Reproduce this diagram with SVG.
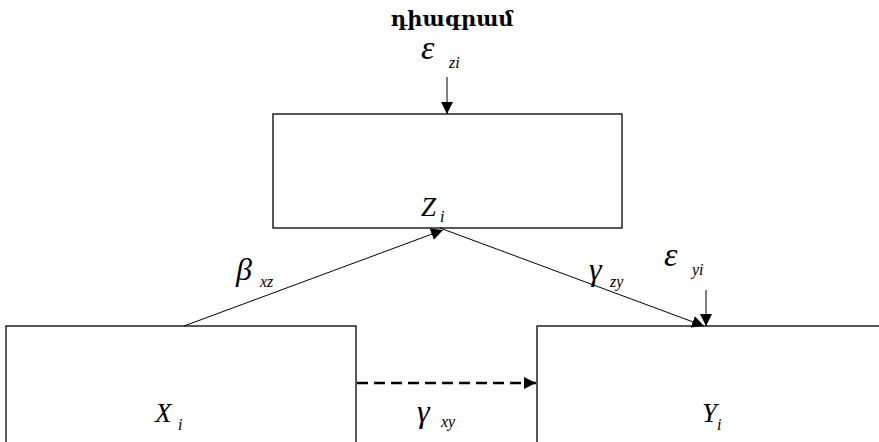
<svg xmlns="http://www.w3.org/2000/svg" width="879" height="442" viewBox="0 0 879 442">
<style>
.box{fill:#fff;stroke:#000;stroke-width:1.3}
.ln{stroke:#000;stroke-width:1;fill:none}
.eps{font-family:"Liberation Serif",serif;font-style:italic;font-size:34px;fill:#000}
.gr{font-family:"Liberation Serif",serif;font-style:italic;font-size:32px;fill:#000}
.mid{font-family:"Liberation Serif",serif;font-style:italic;font-size:27px;fill:#000}
.sub{font-family:"Liberation Serif",serif;font-style:italic;font-size:16px;fill:#000}
.title{font-family:"DejaVu Serif","Noto Sans",serif;font-weight:bold;font-size:21px;fill:#000}
</style>
<defs>
<marker id="ah" viewBox="0 0 10 10" refX="10" refY="5" markerWidth="12" markerHeight="12" markerUnits="userSpaceOnUse" orient="auto">
<path d="M0,0 L10,5 L0,10 Z" fill="#000"/>
</marker>
</defs>
<rect width="879" height="442" fill="#fff"/>
<text class="title" x="452" y="26" text-anchor="middle">դիագրամ</text>
<g id="Z">
<rect class="box" x="273" y="114" width="349" height="114"/>
<text class="mid" x="421" y="216">Z</text><text class="sub" x="440" y="222">i</text>
</g>
<g id="X">
<rect class="box" x="6" y="326" width="350" height="120"/>
<text class="mid" x="155" y="422">X</text><text class="sub" x="178" y="430">i</text>
</g>
<g id="Y">
<rect class="box" x="537" y="326" width="350" height="120"/>
<text class="mid" x="702" y="422">Y</text><text class="sub" x="717" y="430">i</text>
</g>
<g id="labels">
<text class="eps" x="421" y="59">ε</text><text class="sub" x="449" y="68">zi</text>
<text class="eps" x="664" y="266">ε</text><text class="sub" x="692" y="275">yi</text>
<text class="gr" x="236" y="280">β</text><text class="sub" x="260" y="287">xz</text>
<text class="gr" x="589" y="280">γ</text><text class="sub" x="610" y="287">zy</text>
<text class="gr" x="417" y="422">γ</text><text class="sub" x="441" y="427">xy</text>
</g>
<g id="connectors">
<line class="ln" x1="447" y1="77" x2="447" y2="114" marker-end="url(#ah)"/>
<line class="ln" x1="706" y1="290" x2="706" y2="326" marker-end="url(#ah)"/>
<line class="ln" x1="184" y1="326" x2="443" y2="230" marker-end="url(#ah)"/>
<line class="ln" x1="440" y1="228" x2="704" y2="326" marker-end="url(#ah)"/>
<line x1="357" y1="383" x2="536" y2="383" stroke="#000" stroke-width="2.5" stroke-dasharray="11,6" marker-end="url(#ah)"/>
</g>
</svg>
